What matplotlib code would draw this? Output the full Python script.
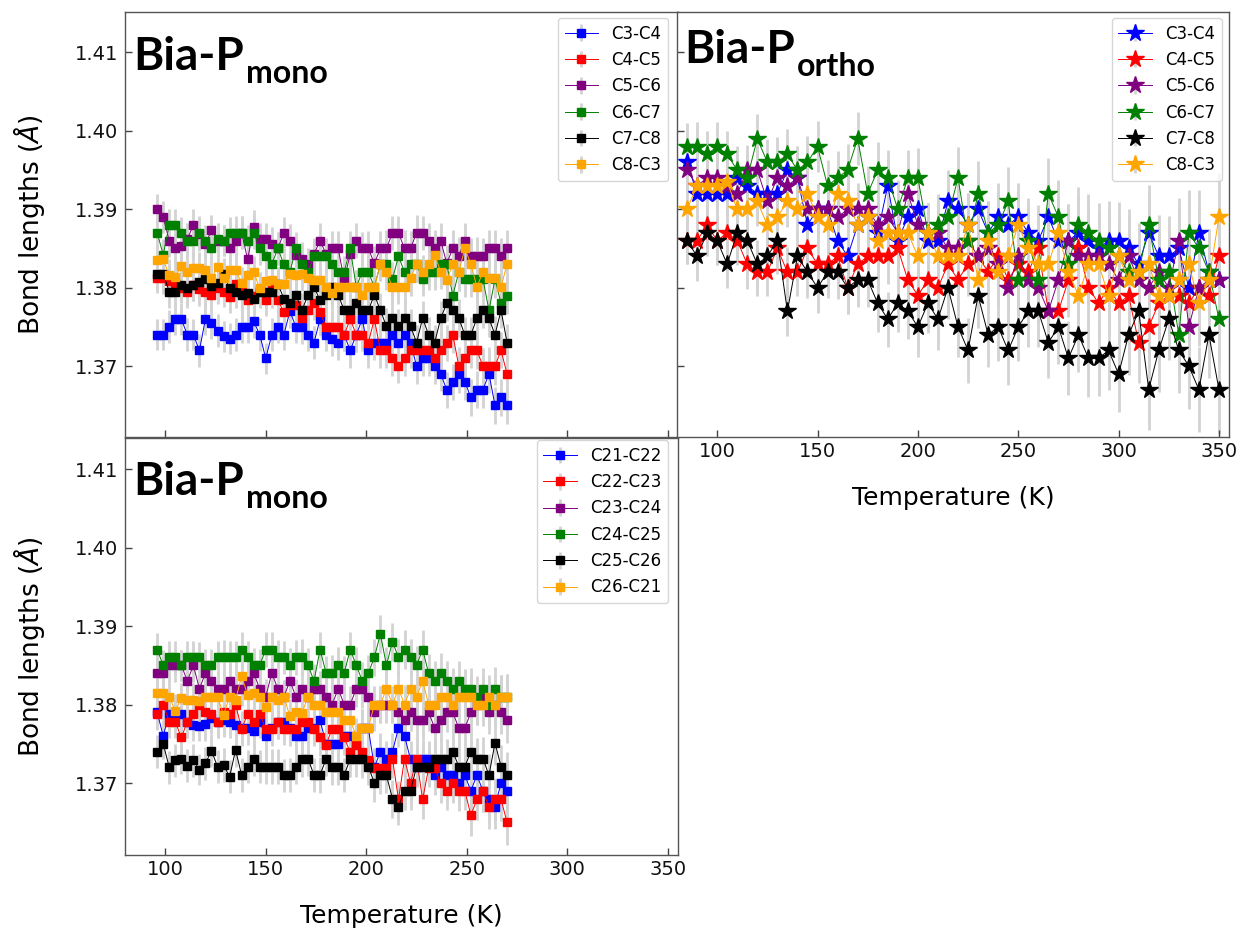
#!/usr/bin/env python3
'Bond lengths vs temperature: Bia-P mono / ortho panels'

import matplotlib
matplotlib.use('Agg')
import matplotlib.pyplot as plt
from matplotlib.ticker import FormatStrFormatter

# temperature grids (K)
temps_mono = list(range(96, 271, 3))
temps_ortho = list(range(85, 351, 5))

# Bia-P mono, ring C3..C8 (top left)
c34_mono = [1.374, 1.374, 1.375, 1.376, 1.376, 1.374, 1.374, 1.372, 1.376, 1.3755,
            1.3745, 1.3738, 1.3735, 1.374, 1.375, 1.375, 1.3757, 1.374, 1.371, 1.374,
            1.375, 1.374, 1.377, 1.375, 1.375, 1.374, 1.373, 1.376, 1.374, 1.3735,
            1.373, 1.374, 1.372, 1.374, 1.376, 1.372, 1.373, 1.373, 1.373, 1.374,
            1.373, 1.374, 1.373, 1.370, 1.371, 1.371, 1.370, 1.369, 1.367, 1.368,
            1.369, 1.368, 1.366, 1.367, 1.367, 1.369, 1.365, 1.366, 1.365]
c45_mono = [1.3813, 1.3812, 1.3808, 1.3806, 1.3800, 1.3795, 1.3803, 1.3798, 1.3795, 1.3791,
            1.3800, 1.3795, 1.3788, 1.3805, 1.3795, 1.3784, 1.3790, 1.3797, 1.3784, 1.3800,
            1.3784, 1.3769, 1.3778, 1.3778, 1.3761, 1.3771, 1.3780, 1.3769, 1.375, 1.375,
            1.375, 1.374, 1.376, 1.374, 1.374, 1.373, 1.376, 1.372, 1.372, 1.371,
            1.370, 1.371, 1.372, 1.372, 1.372, 1.372, 1.371, 1.372, 1.373, 1.374,
            1.370, 1.371, 1.372, 1.372, 1.370, 1.370, 1.370, 1.372, 1.369]
c56_mono = [1.3900, 1.3890, 1.3860, 1.3850, 1.3853, 1.3862, 1.3880, 1.3868, 1.3856, 1.3873,
            1.3860, 1.3860, 1.3850, 1.3860, 1.3870, 1.3836, 1.3878, 1.3862, 1.3862, 1.3856,
            1.3850, 1.3870, 1.3860, 1.3842, 1.3836, 1.3830, 1.3843, 1.3860, 1.3843, 1.3850,
            1.3850, 1.3810, 1.3843, 1.3860, 1.3850, 1.3850, 1.3831, 1.3850, 1.3850, 1.3870,
            1.3870, 1.3850, 1.3850, 1.3870, 1.3870, 1.3860, 1.3850, 1.3860, 1.3831, 1.3850,
            1.3841, 1.3860, 1.3841, 1.3841, 1.3841, 1.3850, 1.3850, 1.3841, 1.3850]
c67_mono = [1.3870, 1.3842, 1.3880, 1.3880, 1.3870, 1.3860, 1.3860, 1.3870, 1.3860, 1.3850,
            1.3862, 1.3860, 1.3870, 1.3870, 1.3870, 1.3860, 1.3870, 1.3850, 1.3840, 1.3830,
            1.3850, 1.3830, 1.3820, 1.3850, 1.3830, 1.3820, 1.3840, 1.3840, 1.3840, 1.3830,
            1.3820, 1.3820, 1.3850, 1.3801, 1.3820, 1.3820, 1.3801, 1.3830, 1.3830, 1.3811,
            1.3840, 1.3820, 1.3830, 1.3830, 1.3811, 1.3820, 1.3820, 1.3830, 1.3830, 1.3790,
            1.3820, 1.3811, 1.3811, 1.3811, 1.3811, 1.3771, 1.3811, 1.3780, 1.3790]
c78_mono = [1.3818, 1.3818, 1.3795, 1.3795, 1.3803, 1.3799, 1.3803, 1.3807, 1.3811, 1.3802,
            1.3806, 1.3818, 1.3799, 1.3795, 1.3791, 1.3793, 1.3786, 1.3795, 1.3795, 1.3795,
            1.3805, 1.3786, 1.3780, 1.3791, 1.3771, 1.3791, 1.3801, 1.3784, 1.3791, 1.3801,
            1.3791, 1.3771, 1.3771, 1.3780, 1.3771, 1.3771, 1.3791, 1.3771, 1.3751, 1.3761,
            1.3751, 1.3761, 1.3751, 1.3730, 1.3761, 1.3740, 1.3730, 1.3761, 1.3780, 1.3771,
            1.3761, 1.3740, 1.3740, 1.3761, 1.3771, 1.3761, 1.3740, 1.3771, 1.3730]
c83_mono = [1.3835, 1.3836, 1.3816, 1.3814, 1.3828, 1.3820, 1.3825, 1.3825, 1.3822, 1.3812,
            1.3826, 1.3812, 1.3823, 1.3822, 1.3806, 1.3816, 1.3820, 1.3799, 1.3809, 1.3810,
            1.3805, 1.3805, 1.3818, 1.3816, 1.3818, 1.3812, 1.3810, 1.3810, 1.3801, 1.3793,
            1.3801, 1.3801, 1.3801, 1.3801, 1.3791, 1.3801, 1.3801, 1.3830, 1.3820, 1.3801,
            1.3801, 1.3801, 1.3812, 1.3830, 1.3820, 1.3830, 1.3842, 1.3820, 1.3810, 1.3830,
            1.3820, 1.3850, 1.3830, 1.3801, 1.3820, 1.3812, 1.3812, 1.3801, 1.3830]
err_mono_a = [0.0020, 0.0020, 0.0021, 0.0020, 0.0020, 0.0021, 0.0020, 0.0021, 0.0020, 0.0020,
              0.0021, 0.0020, 0.0020, 0.0021, 0.0021, 0.0020, 0.0021, 0.0021, 0.0020, 0.0021,
              0.0021, 0.0020, 0.0021, 0.0021, 0.0022, 0.0021, 0.0021, 0.0022, 0.0021, 0.0022,
              0.0022, 0.0021, 0.0022, 0.0022, 0.0021, 0.0022, 0.0022, 0.0022, 0.0023, 0.0022,
              0.0022, 0.0023, 0.0022, 0.0023, 0.0022, 0.0023, 0.0023, 0.0022, 0.0023, 0.0023,
              0.0024, 0.0023, 0.0023, 0.0024, 0.0023, 0.0024, 0.0024, 0.0023, 0.0024]

# Bia-P mono, ring C21..C26 (bottom left)
c2122 = [1.3790, 1.3760, 1.3788, 1.3788, 1.3788, 1.3778, 1.3774, 1.3773, 1.3775, 1.3783,
         1.3778, 1.3780, 1.3778, 1.3774, 1.3770, 1.3770, 1.3766, 1.3778, 1.3760, 1.3770,
         1.3778, 1.3778, 1.3770, 1.3760, 1.3760, 1.3770, 1.3770, 1.3780, 1.3750, 1.3750,
         1.3750, 1.3760, 1.3760, 1.3750, 1.3770, 1.3770, 1.3720, 1.3740, 1.3730, 1.3740,
         1.3770, 1.3760, 1.3730, 1.3720, 1.3730, 1.3730, 1.3710, 1.3720, 1.3710, 1.3710,
         1.3700, 1.3710, 1.3690, 1.3710, 1.3690, 1.3680, 1.3670, 1.3700, 1.3690]
c2223 = [1.3788, 1.3800, 1.3778, 1.3778, 1.3758, 1.3778, 1.3788, 1.3800, 1.3790, 1.3788,
         1.3778, 1.3790, 1.3788, 1.3800, 1.3769, 1.3788, 1.3778, 1.3788, 1.3769, 1.3769,
         1.3778, 1.3769, 1.3769, 1.3769, 1.3778, 1.3778, 1.3769, 1.3758, 1.3749, 1.3769,
         1.3769, 1.3758, 1.3739, 1.3749, 1.3739, 1.3729, 1.3719, 1.3719, 1.3719, 1.3731,
         1.3679, 1.3731, 1.3700, 1.3731, 1.3679, 1.3719, 1.3719, 1.3700, 1.3690, 1.3700,
         1.3690, 1.3690, 1.3659, 1.3679, 1.3690, 1.3669, 1.3679, 1.3679, 1.3650]
c2324 = [1.384, 1.384, 1.385, 1.385, 1.385, 1.383, 1.385, 1.382, 1.384, 1.383,
         1.382, 1.382, 1.383, 1.382, 1.382, 1.383, 1.384, 1.382, 1.381, 1.384,
         1.382, 1.381, 1.383, 1.381, 1.382, 1.381, 1.382, 1.382, 1.381, 1.380,
         1.382, 1.380, 1.380, 1.382, 1.382, 1.381, 1.379, 1.380, 1.380, 1.380,
         1.379, 1.378, 1.379, 1.378, 1.378, 1.379, 1.377, 1.378, 1.379, 1.379,
         1.377, 1.377, 1.379, 1.380, 1.381, 1.379, 1.380, 1.379, 1.378]
c2425 = [1.387, 1.385, 1.386, 1.386, 1.385, 1.386, 1.386, 1.386, 1.385, 1.385,
         1.386, 1.386, 1.386, 1.386, 1.387, 1.386, 1.385, 1.385, 1.387, 1.387,
         1.386, 1.386, 1.385, 1.386, 1.386, 1.385, 1.383, 1.387, 1.384, 1.384,
         1.385, 1.384, 1.387, 1.385, 1.383, 1.384, 1.386, 1.389, 1.385, 1.388,
         1.386, 1.387, 1.386, 1.385, 1.387, 1.384, 1.383, 1.384, 1.383, 1.382,
         1.383, 1.382, 1.382, 1.381, 1.382, 1.380, 1.382, 1.381, 1.381]
c2526 = [1.3740, 1.3750, 1.3720, 1.3729, 1.3731, 1.3722, 1.3729, 1.3717, 1.3725, 1.3741,
         1.3721, 1.3723, 1.3708, 1.3742, 1.3710, 1.3721, 1.3731, 1.3721, 1.3721, 1.3721,
         1.3721, 1.3710, 1.3710, 1.3721, 1.3731, 1.3731, 1.3710, 1.3710, 1.3731, 1.3721,
         1.3721, 1.3710, 1.3731, 1.3731, 1.3731, 1.3721, 1.3700, 1.3710, 1.3710, 1.3680,
         1.3670, 1.3690, 1.3690, 1.3721, 1.3721, 1.3721, 1.3731, 1.3731, 1.3731, 1.3740,
         1.3721, 1.3721, 1.3740, 1.3731, 1.3731, 1.3710, 1.3751, 1.3721, 1.3710]
c2621 = [1.3815, 1.3815, 1.3810, 1.3792, 1.3808, 1.3806, 1.3806, 1.3804, 1.3810, 1.3810,
         1.3810, 1.3787, 1.3810, 1.3806, 1.3836, 1.3812, 1.3815, 1.3810, 1.3797, 1.3810,
         1.3806, 1.3810, 1.3785, 1.3790, 1.3789, 1.3810, 1.3800, 1.3800, 1.3790, 1.3790,
         1.3790, 1.3780, 1.3780, 1.3760, 1.3770, 1.3770, 1.3800, 1.3800, 1.3820, 1.3800,
         1.3820, 1.3800, 1.3820, 1.3810, 1.3830, 1.3800, 1.3800, 1.3810, 1.3810, 1.3800,
         1.3810, 1.3810, 1.3810, 1.3800, 1.3800, 1.3810, 1.3800, 1.3810, 1.3810]
err_mono_b = [0.0021, 0.0020, 0.0021, 0.0021, 0.0020, 0.0021, 0.0021, 0.0020, 0.0021, 0.0021,
              0.0021, 0.0022, 0.0021, 0.0021, 0.0022, 0.0021, 0.0022, 0.0021, 0.0022, 0.0022,
              0.0022, 0.0021, 0.0022, 0.0022, 0.0023, 0.0022, 0.0022, 0.0023, 0.0022, 0.0023,
              0.0023, 0.0022, 0.0023, 0.0023, 0.0024, 0.0023, 0.0024, 0.0024, 0.0023, 0.0024,
              0.0024, 0.0025, 0.0024, 0.0025, 0.0025, 0.0024, 0.0025, 0.0026, 0.0025, 0.0026,
              0.0026, 0.0025, 0.0027, 0.0026, 0.0027, 0.0027, 0.0028, 0.0027, 0.0029]

# Bia-P ortho, ring C3..C8 (top right)
c34_ortho = [1.396, 1.392, 1.392, 1.392, 1.392, 1.394, 1.393, 1.392, 1.392, 1.392,
             1.395, 1.394, 1.388, 1.390, 1.390, 1.386, 1.384, 1.388, 1.389, 1.387,
             1.393, 1.386, 1.389, 1.390, 1.386, 1.386, 1.391, 1.390, 1.388, 1.390,
             1.387, 1.389, 1.388, 1.389, 1.387, 1.386, 1.389, 1.386, 1.386, 1.387,
             1.386, 1.385, 1.386, 1.386, 1.385, 1.383, 1.387, 1.384, 1.384, 1.385,
             1.380, 1.387, 1.382, 1.381]
c45_ortho = [1.386, 1.386, 1.388, 1.386, 1.387, 1.386, 1.383, 1.382, 1.382, 1.385,
             1.382, 1.382, 1.385, 1.383, 1.383, 1.384, 1.380, 1.383, 1.384, 1.384,
             1.384, 1.385, 1.381, 1.379, 1.381, 1.380, 1.383, 1.381, 1.383, 1.384,
             1.382, 1.384, 1.381, 1.383, 1.382, 1.385, 1.377, 1.377, 1.381, 1.385,
             1.380, 1.378, 1.380, 1.378, 1.379, 1.373, 1.375, 1.378, 1.379, 1.379,
             1.378, 1.380, 1.379, 1.384]
c56_ortho = [1.395, 1.393, 1.394, 1.394, 1.393, 1.392, 1.395, 1.395, 1.391, 1.394,
             1.393, 1.394, 1.390, 1.390, 1.390, 1.389, 1.390, 1.390, 1.390, 1.388,
             1.389, 1.387, 1.392, 1.388, 1.387, 1.387, 1.385, 1.385, 1.386, 1.384,
             1.385, 1.383, 1.380, 1.384, 1.381, 1.380, 1.377, 1.381, 1.386, 1.384,
             1.384, 1.384, 1.383, 1.381, 1.384, 1.381, 1.380, 1.382, 1.380, 1.386,
             1.375, 1.380, 1.381, 1.381]
c67_ortho = [1.398, 1.398, 1.397, 1.398, 1.397, 1.395, 1.394, 1.399, 1.396, 1.396,
             1.397, 1.395, 1.396, 1.398, 1.393, 1.394, 1.395, 1.399, 1.392, 1.395,
             1.394, 1.390, 1.394, 1.394, 1.387, 1.388, 1.389, 1.394, 1.386, 1.392,
             1.387, 1.388, 1.391, 1.381, 1.386, 1.381, 1.392, 1.389, 1.383, 1.388,
             1.387, 1.386, 1.385, 1.384, 1.382, 1.382, 1.388, 1.381, 1.382, 1.374,
             1.387, 1.385, 1.382, 1.376]
c78_ortho = [1.386, 1.384, 1.387, 1.386, 1.383, 1.387, 1.386, 1.383, 1.384, 1.386,
             1.377, 1.384, 1.382, 1.380, 1.382, 1.382, 1.380, 1.381, 1.381, 1.378,
             1.376, 1.378, 1.377, 1.375, 1.378, 1.376, 1.380, 1.375, 1.372, 1.379,
             1.374, 1.375, 1.372, 1.375, 1.377, 1.377, 1.373, 1.375, 1.371, 1.374,
             1.371, 1.371, 1.372, 1.369, 1.374, 1.377, 1.367, 1.372, 1.376, 1.372,
             1.370, 1.367, 1.374, 1.367]
c83_ortho = [1.390, 1.393, 1.393, 1.393, 1.3935, 1.390, 1.390, 1.391, 1.388, 1.389,
             1.391, 1.390, 1.392, 1.389, 1.388, 1.392, 1.391, 1.388, 1.389, 1.386,
             1.387, 1.387, 1.387, 1.384, 1.387, 1.384, 1.384, 1.384, 1.388, 1.381,
             1.386, 1.382, 1.384, 1.388, 1.385, 1.383, 1.383, 1.387, 1.382, 1.379,
             1.383, 1.383, 1.379, 1.384, 1.381, 1.382, 1.383, 1.379, 1.379, 1.381,
             1.383, 1.378, 1.381, 1.389]
err_ortho = [0.0030, 0.0031, 0.0030, 0.0031, 0.0030, 0.0031, 0.0032, 0.0031, 0.0030, 0.0032,
             0.0032, 0.0031, 0.0033, 0.0032, 0.0033, 0.0034, 0.0033, 0.0034, 0.0035, 0.0036,
             0.0035, 0.0037, 0.0036, 0.0038, 0.0038, 0.0039, 0.0040, 0.0039, 0.0041, 0.0042,
             0.0041, 0.0043, 0.0044, 0.0043, 0.0045, 0.0046, 0.0045, 0.0047, 0.0047, 0.0048,
             0.0049, 0.0048, 0.0050, 0.0049, 0.0051, 0.0052, 0.0051, 0.0053, 0.0052, 0.0054,
             0.0055, 0.0054, 0.0055, 0.0056]

COLORS = ['blue', 'red', 'purple', 'green', 'black', 'orange']
W, H = 1244, 936


def add_axes_px(fig, left, top, right, bottom):
    'pixel box -> figure axes'
    return fig.add_axes([left / W, 1 - bottom / H, (right - left) / W, (bottom - top) / H])


def style_axes(ax, ylim, show_x=True, show_y=True):
    ax.set_xlim(80, 355)
    ax.set_ylim(*ylim)
    ax.set_xticks([100, 150, 200, 250, 300, 350])
    ax.set_yticks([1.37, 1.38, 1.39, 1.40, 1.41])
    ax.yaxis.set_major_formatter(FormatStrFormatter('%.2f'))
    ax.tick_params(direction='in', length=5, width=1, color='#444444',
                   labelsize=14, labelcolor='#111111')
    ax.tick_params(axis='y', pad=5)
    ax.tick_params(axis='x', labelbottom=show_x)
    ax.tick_params(axis='y', labelleft=show_y)
    for sp in ax.spines.values():
        sp.set_color('#555555')
        sp.set_linewidth(1.0)


def draw_series(ax, temps, series, labels, err, marker, ms):
    for vals, lab, col in zip(series, labels, COLORS):
        eb = ax.errorbar(temps, vals, yerr=err, color=col, marker=marker, markersize=ms,
                         linewidth=0.7, ecolor='lightgray', elinewidth=2.0, capsize=0,
                         label=lab)
        eb[2][0].set_zorder(1)
        eb[0].set_zorder(3)


def panel_title(fig, renderer, x, baseline, sub):
    'big bold "Bia-P" with a dropped subscript'
    kw = dict(fontfamily='Lato', fontweight='bold', va='baseline', ha='left')
    t = fig.text(x / W, 1 - baseline / H, 'Bia-P', fontsize=33, **kw)
    x_end = t.get_window_extent(renderer).x1
    fig.text((x_end + 2) / W, 1 - (baseline + 13) / H, sub, fontsize=23, **kw)


def main():
    fig = plt.figure(figsize=(W / 100, H / 100), dpi=100)
    renderer = fig.canvas.get_renderer()

    # top left: mono, C3..C8
    ax1 = add_axes_px(fig, 125, 12, 678, 437)
    draw_series(ax1, temps_mono,
                [c34_mono, c45_mono, c56_mono, c67_mono, c78_mono, c83_mono],
                ['C3-C4', 'C4-C5', 'C5-C6', 'C6-C7', 'C7-C8', 'C8-C3'],
                err_mono_a, 's', 5.5)
    style_axes(ax1, (1.36096, 1.41516), show_x=False)
    ax1.set_ylabel(r'Bond lengths ($Å$)', fontsize=19, labelpad=20)
    ax1.legend(loc='upper right', bbox_to_anchor=(0.982, 0.986), borderaxespad=0,
               fontsize=12)

    # top right: ortho, C3..C8
    ax2 = add_axes_px(fig, 677, 12, 1229, 437)
    draw_series(ax2, temps_ortho,
                [c34_ortho, c45_ortho, c56_ortho, c67_ortho, c78_ortho, c83_ortho],
                ['C3-C4', 'C4-C5', 'C5-C6', 'C6-C7', 'C7-C8', 'C8-C3'],
                err_ortho, '*', 13)
    style_axes(ax2, (1.36096, 1.41516), show_y=False)
    ax2.set_xlabel('Temperature (K)', fontsize=18, labelpad=18)
    ax2.legend(loc='upper right', bbox_to_anchor=(0.987, 0.986), borderaxespad=0,
               fontsize=12)

    # bottom left: mono, C21..C26
    ax3 = add_axes_px(fig, 125, 438, 678, 855)
    draw_series(ax3, temps_mono,
                [c2122, c2223, c2324, c2425, c2526, c2621],
                ['C21-C22', 'C22-C23', 'C23-C24', 'C24-C25', 'C25-C26', 'C26-C21'],
                err_mono_b, 's', 5.5)
    style_axes(ax3, (1.36083, 1.41395))
    ax3.set_ylabel(r'Bond lengths ($Å$)', fontsize=19, labelpad=20)
    ax3.set_xlabel('Temperature (K)', fontsize=18, labelpad=18)
    ax3.legend(loc='upper right', bbox_to_anchor=(0.982, 0.995), borderaxespad=0,
               fontsize=12)

    # panel titles
    panel_title(fig, renderer, 133, 70, 'mono')
    panel_title(fig, renderer, 684, 63, 'ortho')
    panel_title(fig, renderer, 133, 495, 'mono')

    fig.savefig('out.png', dpi=100)
    plt.close(fig)


if __name__ == '__main__':
    main()
